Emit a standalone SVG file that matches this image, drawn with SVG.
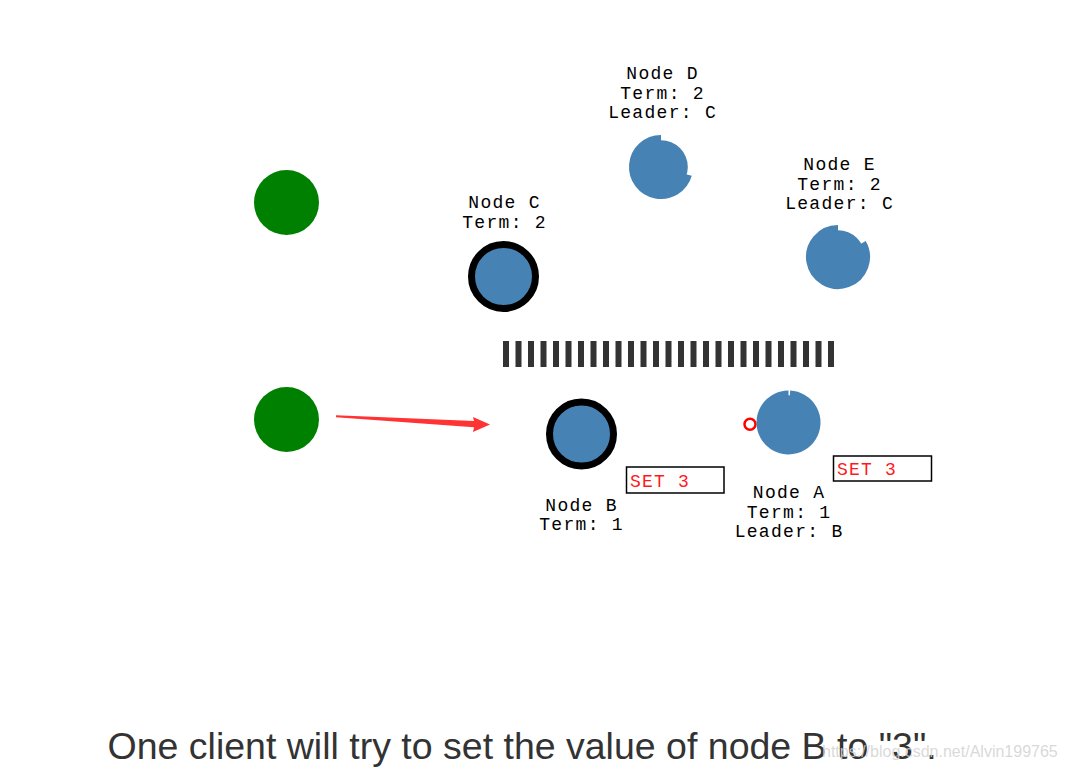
<svg xmlns="http://www.w3.org/2000/svg" width="1066" height="772" viewBox="0 0 1066 772">
<style>
.client{fill:#008000}
.node{fill:#4682b4}
.leader{fill:#4682b4;stroke:#000;stroke-width:7}
.timer{fill:none;stroke:#4682b4;stroke-width:6}
.lbl{font-family:"Liberation Mono","DejaVu Sans Mono",monospace;font-size:18px;letter-spacing:1.3px;fill:#000;text-anchor:middle}
.set rect{fill:#fff;stroke:#000;stroke-width:1.5}
.set text{font-family:"Liberation Mono","DejaVu Sans Mono",monospace;font-size:18px;letter-spacing:1.2px;fill:#ff1a1a}
.bar{fill:#333}
</style>
<rect width="1066" height="772" fill="#fff"/>
<g id="client1"><circle class="client" cx="286.5" cy="202.5" r="32.5"/></g>
<g id="client2"><circle class="client" cx="286.5" cy="419.5" r="32.5"/></g>
<g id="partition">
<rect class="bar" x="503" y="341" width="6" height="26"/><rect class="bar" x="515.5" y="341" width="6" height="26"/><rect class="bar" x="528" y="341" width="6" height="26"/><rect class="bar" x="540.5" y="341" width="6" height="26"/><rect class="bar" x="553" y="341" width="6" height="26"/><rect class="bar" x="565.5" y="341" width="6" height="26"/><rect class="bar" x="578" y="341" width="6" height="26"/><rect class="bar" x="590.5" y="341" width="6" height="26"/><rect class="bar" x="603" y="341" width="6" height="26"/><rect class="bar" x="615.5" y="341" width="6" height="26"/><rect class="bar" x="628" y="341" width="6" height="26"/><rect class="bar" x="640.5" y="341" width="6" height="26"/><rect class="bar" x="653" y="341" width="6" height="26"/><rect class="bar" x="665.5" y="341" width="6" height="26"/><rect class="bar" x="678" y="341" width="6" height="26"/><rect class="bar" x="690.5" y="341" width="6" height="26"/><rect class="bar" x="703" y="341" width="6" height="26"/><rect class="bar" x="715.5" y="341" width="6" height="26"/><rect class="bar" x="728" y="341" width="6" height="26"/><rect class="bar" x="740.5" y="341" width="6" height="26"/><rect class="bar" x="753" y="341" width="6" height="26"/><rect class="bar" x="765.5" y="341" width="6" height="26"/><rect class="bar" x="778" y="341" width="6" height="26"/><rect class="bar" x="790.5" y="341" width="6" height="26"/><rect class="bar" x="803" y="341" width="6" height="26"/><rect class="bar" x="815.5" y="341" width="6" height="26"/><rect class="bar" x="828" y="341" width="6" height="26"/>
</g>
<g id="nodeC">
<circle class="leader" cx="503.5" cy="276.5" r="32"/>
<text class="lbl" x="504.6" y="208">Node C</text>
<text class="lbl" x="504.6" y="228">Term: 2</text>
</g>
<g id="nodeD">
<circle class="node" cx="661" cy="167" r="26.8"/>
<path class="timer" d="M688.88,174.99 A29,29 0 1 1 661,138"/>
<text class="lbl" x="662.6" y="79">Node D</text>
<text class="lbl" x="662.6" y="98.5">Term: 2</text>
<text class="lbl" x="662.6" y="118">Leader: C</text>
</g>
<g id="nodeE">
<circle class="node" cx="838" cy="257" r="26.8"/>
<path class="timer" d="M863.11,242.5 A29,29 0 1 1 838,228"/>
<text class="lbl" x="839.6" y="170">Node E</text>
<text class="lbl" x="839.6" y="190">Term: 2</text>
<text class="lbl" x="839.6" y="209">Leader: C</text>
</g>
<g id="nodeB">
<circle class="leader" cx="581.5" cy="434" r="32"/>
<text class="lbl" x="581.6" y="511">Node B</text>
<text class="lbl" x="581.6" y="530">Term: 1</text>
</g>
<g id="setB" class="set">
<rect x="626.5" y="467" width="97.5" height="26"/>
<text x="630" y="487">SET 3</text>
</g>
<g id="nodeA">
<circle cx="750" cy="424.3" r="5.5" fill="none" stroke="#ff0000" stroke-width="2.5"/>
<circle class="node" cx="788.5" cy="422.5" r="27.2"/>
<path class="timer" d="M790.02,393.54 A29,29 0 1 1 788.5,393.5"/>
<text class="lbl" x="789.1" y="498">Node A</text>
<text class="lbl" x="789.1" y="518">Term: 1</text>
<text class="lbl" x="789.1" y="537">Leader: B</text>
</g>
<g id="setA" class="set">
<rect x="833.5" y="456" width="98" height="25"/>
<text x="837" y="475">SET 3</text>
</g>
<g id="connectors">
<polygon fill="#ff3333" points="336,415.3 474,421 473,417 490,424.5 473,432 474,427.2 336,417.3"/>
</g>
<text x="107.5" y="759" font-family="Liberation Sans, Arial, sans-serif" font-size="37.5" fill="#333">One client will try to set the value of node B to "3".</text>
<text x="822" y="757" font-family="Liberation Sans, Arial, sans-serif" font-size="16" fill="#d2d2d2" fill-opacity="0.85">https://blog.csdn.net/Alvin199765</text>
</svg>
